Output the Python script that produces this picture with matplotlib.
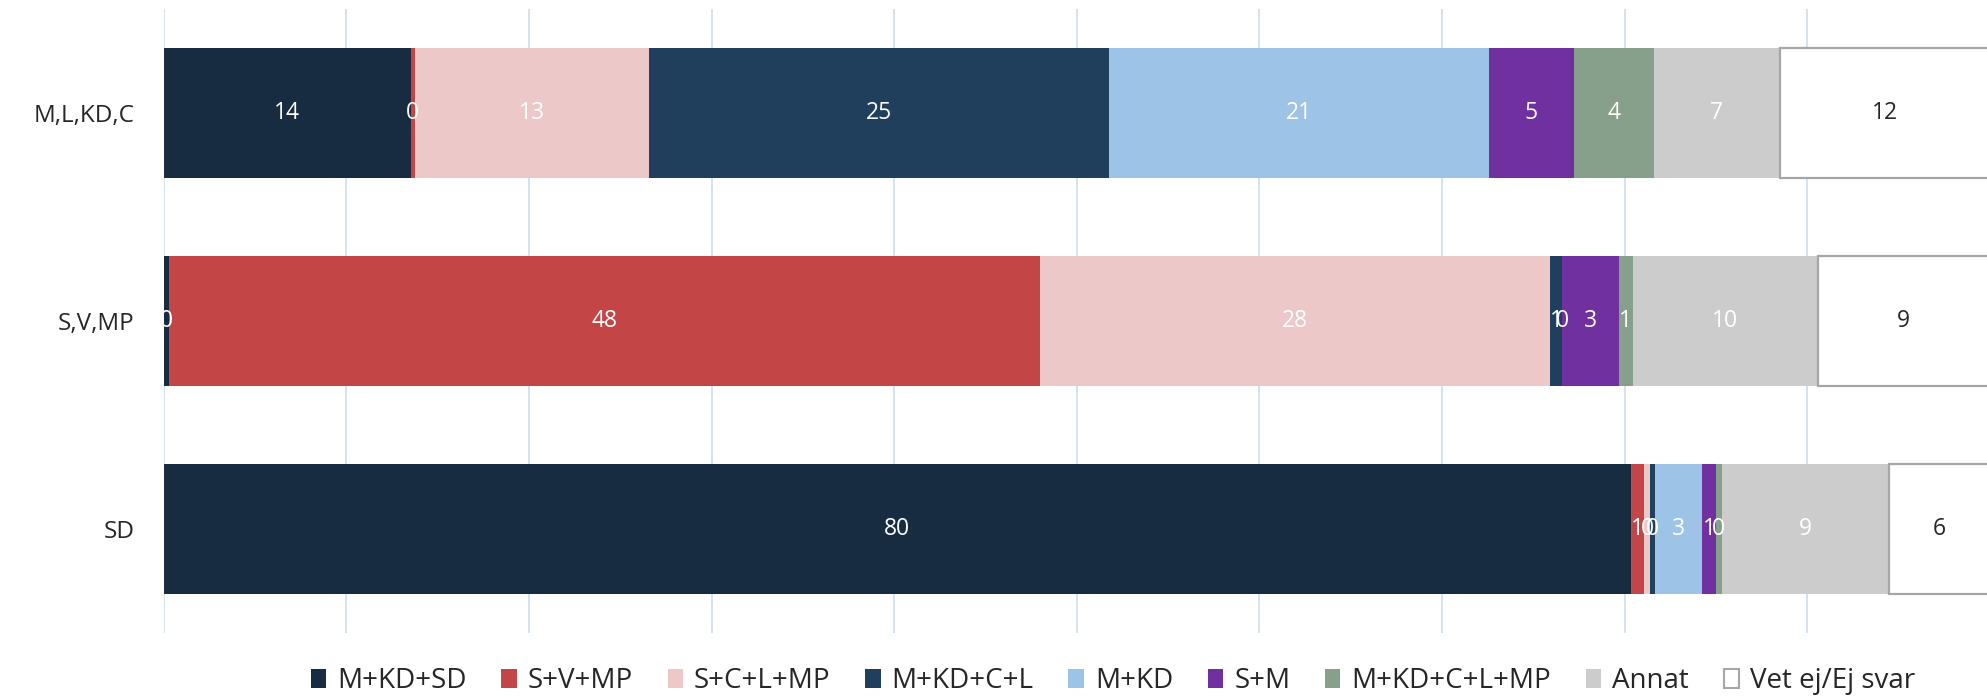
import matplotlib
matplotlib.use("Agg")
import matplotlib.pyplot as plt
from matplotlib.patches import Patch

plt.rcParams['font.family'] = ['Open Sans', 'DejaVu Sans']

categories = ["M,L,KD,C", "S,V,MP", "SD"]
series_names = ["M+KD+SD", "S+V+MP", "S+C+L+MP", "M+KD+C+L", "M+KD",
                "S+M", "M+KD+C+L+MP", "Annat", "Vet ej/Ej svar"]
# values per series, order of categories
m_kd_sd     = [13.52, 0.31, 80.36]
s_v_mp      = [0.22, 47.70, 0.71]
s_c_l_mp    = [12.85, 27.90, 0.35]
m_kd_c_l    = [25.16, 0.67, 0.26]
m_kd        = [20.83, 0.00, 2.57]
s_m         = [4.63, 3.10, 0.75]
m_kd_c_l_mp = [4.42, 0.78, 0.33]
annat       = [6.86, 10.13, 9.14]
vet_ej      = [11.55, 9.41, 5.53]
series_values = [m_kd_sd, s_v_mp, s_c_l_mp, m_kd_c_l, m_kd, s_m,
                 m_kd_c_l_mp, annat, vet_ej]

colors = ['#172B41', '#C44545', '#EDC8C8', '#203F5C', '#9DC3E6',
          '#7030A0', '#86A08C', '#CCCCCC', '#FFFFFF']

W, H = 1987, 698
fig = plt.figure(figsize=(W / 100, H / 100), dpi=100)
ax = fig.add_axes([163.7 / W, 1 - 633 / H, (1989.7 - 163.7) / W, (633 - 9) / H])

ypos = list(range(len(categories)))
left = [0.0] * len(categories)
for name, vals, col in zip(series_names, series_values, colors):
    is_white = col == '#FFFFFF'
    ax.barh(ypos, vals, left=left, height=0.628, color=col,
            edgecolor='#A6A6A6' if is_white else 'none',
            linewidth=1.6 if is_white else 0, label=name, zorder=3)
    for y, v, l in zip(ypos, vals, left):
        ax.text(l + v / 2, y, f"{v:.0f}", ha='center', va='center',
                fontsize=16.5, color='#262626' if is_white else 'white',
                zorder=5, clip_on=False)
    left = [a + b for a, b in zip(left, vals)]

ax.set_xlim(0, 100)
ax.set_ylim(2.5, -0.5)
ax.set_xticks(range(0, 101, 10))
ax.xaxis.grid(True, color='#D6E2EF', linewidth=1.4, zorder=0)
ax.set_axisbelow(True)
ax.tick_params(axis='x', length=0, labelbottom=False)
ax.tick_params(axis='y', length=0, pad=21, labelsize=17.5, labelcolor='#262626')
ax.set_yticks(ypos)
ax.set_yticklabels(categories)
for s in ax.spines.values():
    s.set_visible(False)

handles = []
for name, col in zip(series_names, colors):
    if col == '#FFFFFF':
        handles.append(Patch(facecolor=col, edgecolor='#A6A6A6', linewidth=1.5, label=name))
    else:
        handles.append(Patch(facecolor=col, edgecolor='none', label=name))
fig.legend(handles=handles, loc='center', bbox_to_anchor=(1113 / W, 1 - 681 / H),
           ncol=len(handles), frameon=False, fontsize=20, handlelength=0.55,
           handleheight=0.7, handletextpad=0.4, columnspacing=1.25,
           labelcolor='#262626')

fig.savefig("out.png", dpi=100)
